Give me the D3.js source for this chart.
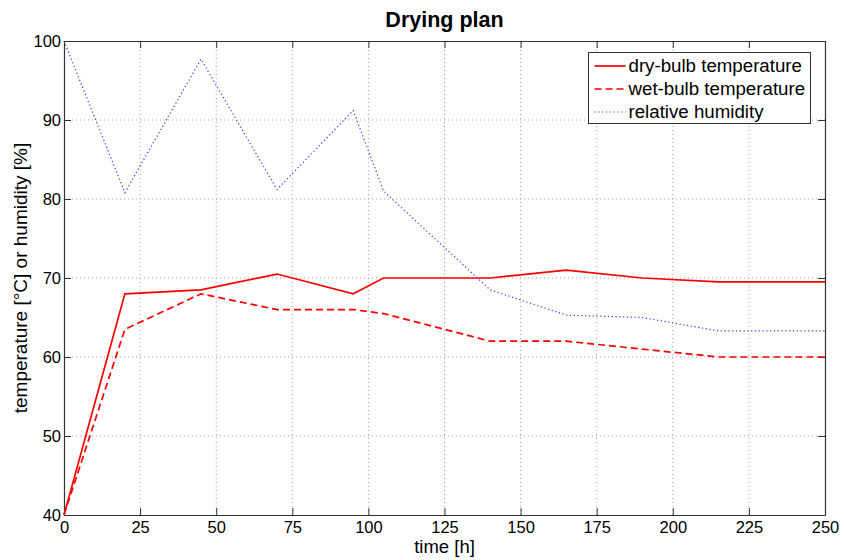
<!DOCTYPE html>
<html>
<head>
<meta charset="utf-8">
<script src="https://cdn.jsdelivr.net/npm/d3@7"></script>
<style>
  body { margin: 0; background: #fff; }
  svg { display: block; font-family: "Liberation Sans", Arial, sans-serif; }
</style>
</head>
<body>
<svg id="chart" width="844" height="560"></svg>
<script>
// Drying schedule: time in hours
const timeH = [0, 20, 45, 70, 95, 105, 140, 165, 190, 215, 250];
const dryBulb = [40, 68, 68.5, 70.5, 68, 70, 70, 71, 70, 69.5, 69.5];
const wetBulb = [40, 63.5, 68, 66, 66, 65.5, 62, 62, 61, 60, 60];
const humidity = [100, 80.8, 97.7, 81.2, 91.2, 81, 68.5, 65.3, 65, 63.3, 63.3];
const xTicks = [0, 25, 50, 75, 100, 125, 150, 175, 200, 225, 250];
const yTicks = [40, 50, 60, 70, 80, 90, 100];

const series = [
  { name: "dry-bulb temperature", values: dryBulb, color: "#ff0000", dash: null, width: 1.7 },
  { name: "wet-bulb temperature", values: wetBulb, color: "#ff0000", dash: "7,4", width: 1.7 },
  { name: "relative humidity", values: humidity, color: "#3333ff", dash: "1.2,2.6", width: 1.2 }
];

const svg = d3.select("#chart");
const m = { left: 64, right: 19, top: 41, bottom: 45 };
const W = 844, H = 560;
const x = d3.scaleLinear().domain([0, 250]).range([m.left, W - m.right]);
const y = d3.scaleLinear().domain([40, 100]).range([H - m.bottom, m.top]);

// grid
const grid = svg.append("g");
grid.selectAll("line.vx").data(xTicks.slice(1, -1)).join("line")
  .attr("x1", d => x(d)).attr("x2", d => x(d))
  .attr("y1", y(40)).attr("y2", y(100))
  .attr("stroke", "#a0a0a0").attr("stroke-width", 1).attr("stroke-dasharray", "1,3");
grid.selectAll("line.hy").data(yTicks.slice(1, -1)).join("line")
  .attr("x1", x(0)).attr("x2", x(250))
  .attr("y1", d => y(d)).attr("y2", d => y(d))
  .attr("stroke", "#a0a0a0").attr("stroke-width", 1).attr("stroke-dasharray", "1,3");

// axes (ticks inward on all sides)
const tickLen = 7;
const axB = svg.append("g").attr("transform", `translate(0,${y(40)})`)
  .call(d3.axisBottom(x).tickValues(xTicks).tickSizeInner(-tickLen).tickSizeOuter(0).tickPadding(6));
const axT = svg.append("g").attr("transform", `translate(0,${y(100)})`)
  .call(d3.axisTop(x).tickValues(xTicks).tickSizeInner(-tickLen).tickSizeOuter(0).tickFormat(""));
const axL = svg.append("g").attr("transform", `translate(${x(0)},0)`)
  .call(d3.axisLeft(y).tickValues(yTicks).tickSizeInner(-tickLen).tickSizeOuter(0).tickPadding(3));
const axR = svg.append("g").attr("transform", `translate(${x(250)},0)`)
  .call(d3.axisRight(y).tickValues(yTicks).tickSizeInner(-tickLen).tickSizeOuter(0).tickFormat(""));
[axB, axT, axL, axR].forEach(a => {
  a.select(".domain").attr("stroke", "#333").attr("stroke-width", 1.2);
  a.selectAll(".tick line").attr("stroke", "#333");
  a.selectAll("text").attr("font-size", 16.5).attr("fill", "#000")
    .attr("font-family", "\"Liberation Sans\", Arial, sans-serif");
});

// lines
const line = d3.line().x((d, i) => x(timeH[i])).y(d => y(d));
svg.append("g").selectAll("path").data(series).join("path")
  .attr("d", d => line(d.values))
  .attr("fill", "none")
  .attr("stroke", d => d.color)
  .attr("stroke-width", d => d.width)
  .attr("stroke-dasharray", d => d.dash);

// title and labels
svg.append("text").attr("x", (x(0) + x(250)) / 2).attr("y", 27)
  .attr("text-anchor", "middle").attr("font-size", 21.5).attr("font-weight", "bold")
  .text("Drying plan");
svg.append("text").attr("x", (x(0) + x(250)) / 2).attr("y", 553)
  .attr("text-anchor", "middle").attr("font-size", 18.5).text("time [h]");
svg.append("text")
  .attr("transform", `translate(27,${(y(40) + y(100)) / 2}) rotate(-90)`)
  .attr("text-anchor", "middle").attr("font-size", 19)
  .text("temperature [°C] or humidity [%]");

// legend
const lg = svg.append("g").attr("transform", "translate(588.5,52.5)");
lg.append("rect").attr("width", 222).attr("height", 71)
  .attr("fill", "#fff").attr("stroke", "#333").attr("stroke-width", 1);
const rows = lg.selectAll("g.row").data(series).join("g")
  .attr("transform", (d, i) => `translate(0,${13.5 + i * 23})`);
rows.append("line").attr("x1", 6).attr("x2", 37).attr("y1", 0).attr("y2", 0)
  .attr("stroke", d => d.color).attr("stroke-width", d => d.width)
  .attr("stroke-dasharray", d => d.dash);
rows.append("text").attr("x", 40).attr("y", 6).attr("font-size", 18.7).text(d => d.name);
</script>
</body>
</html>
